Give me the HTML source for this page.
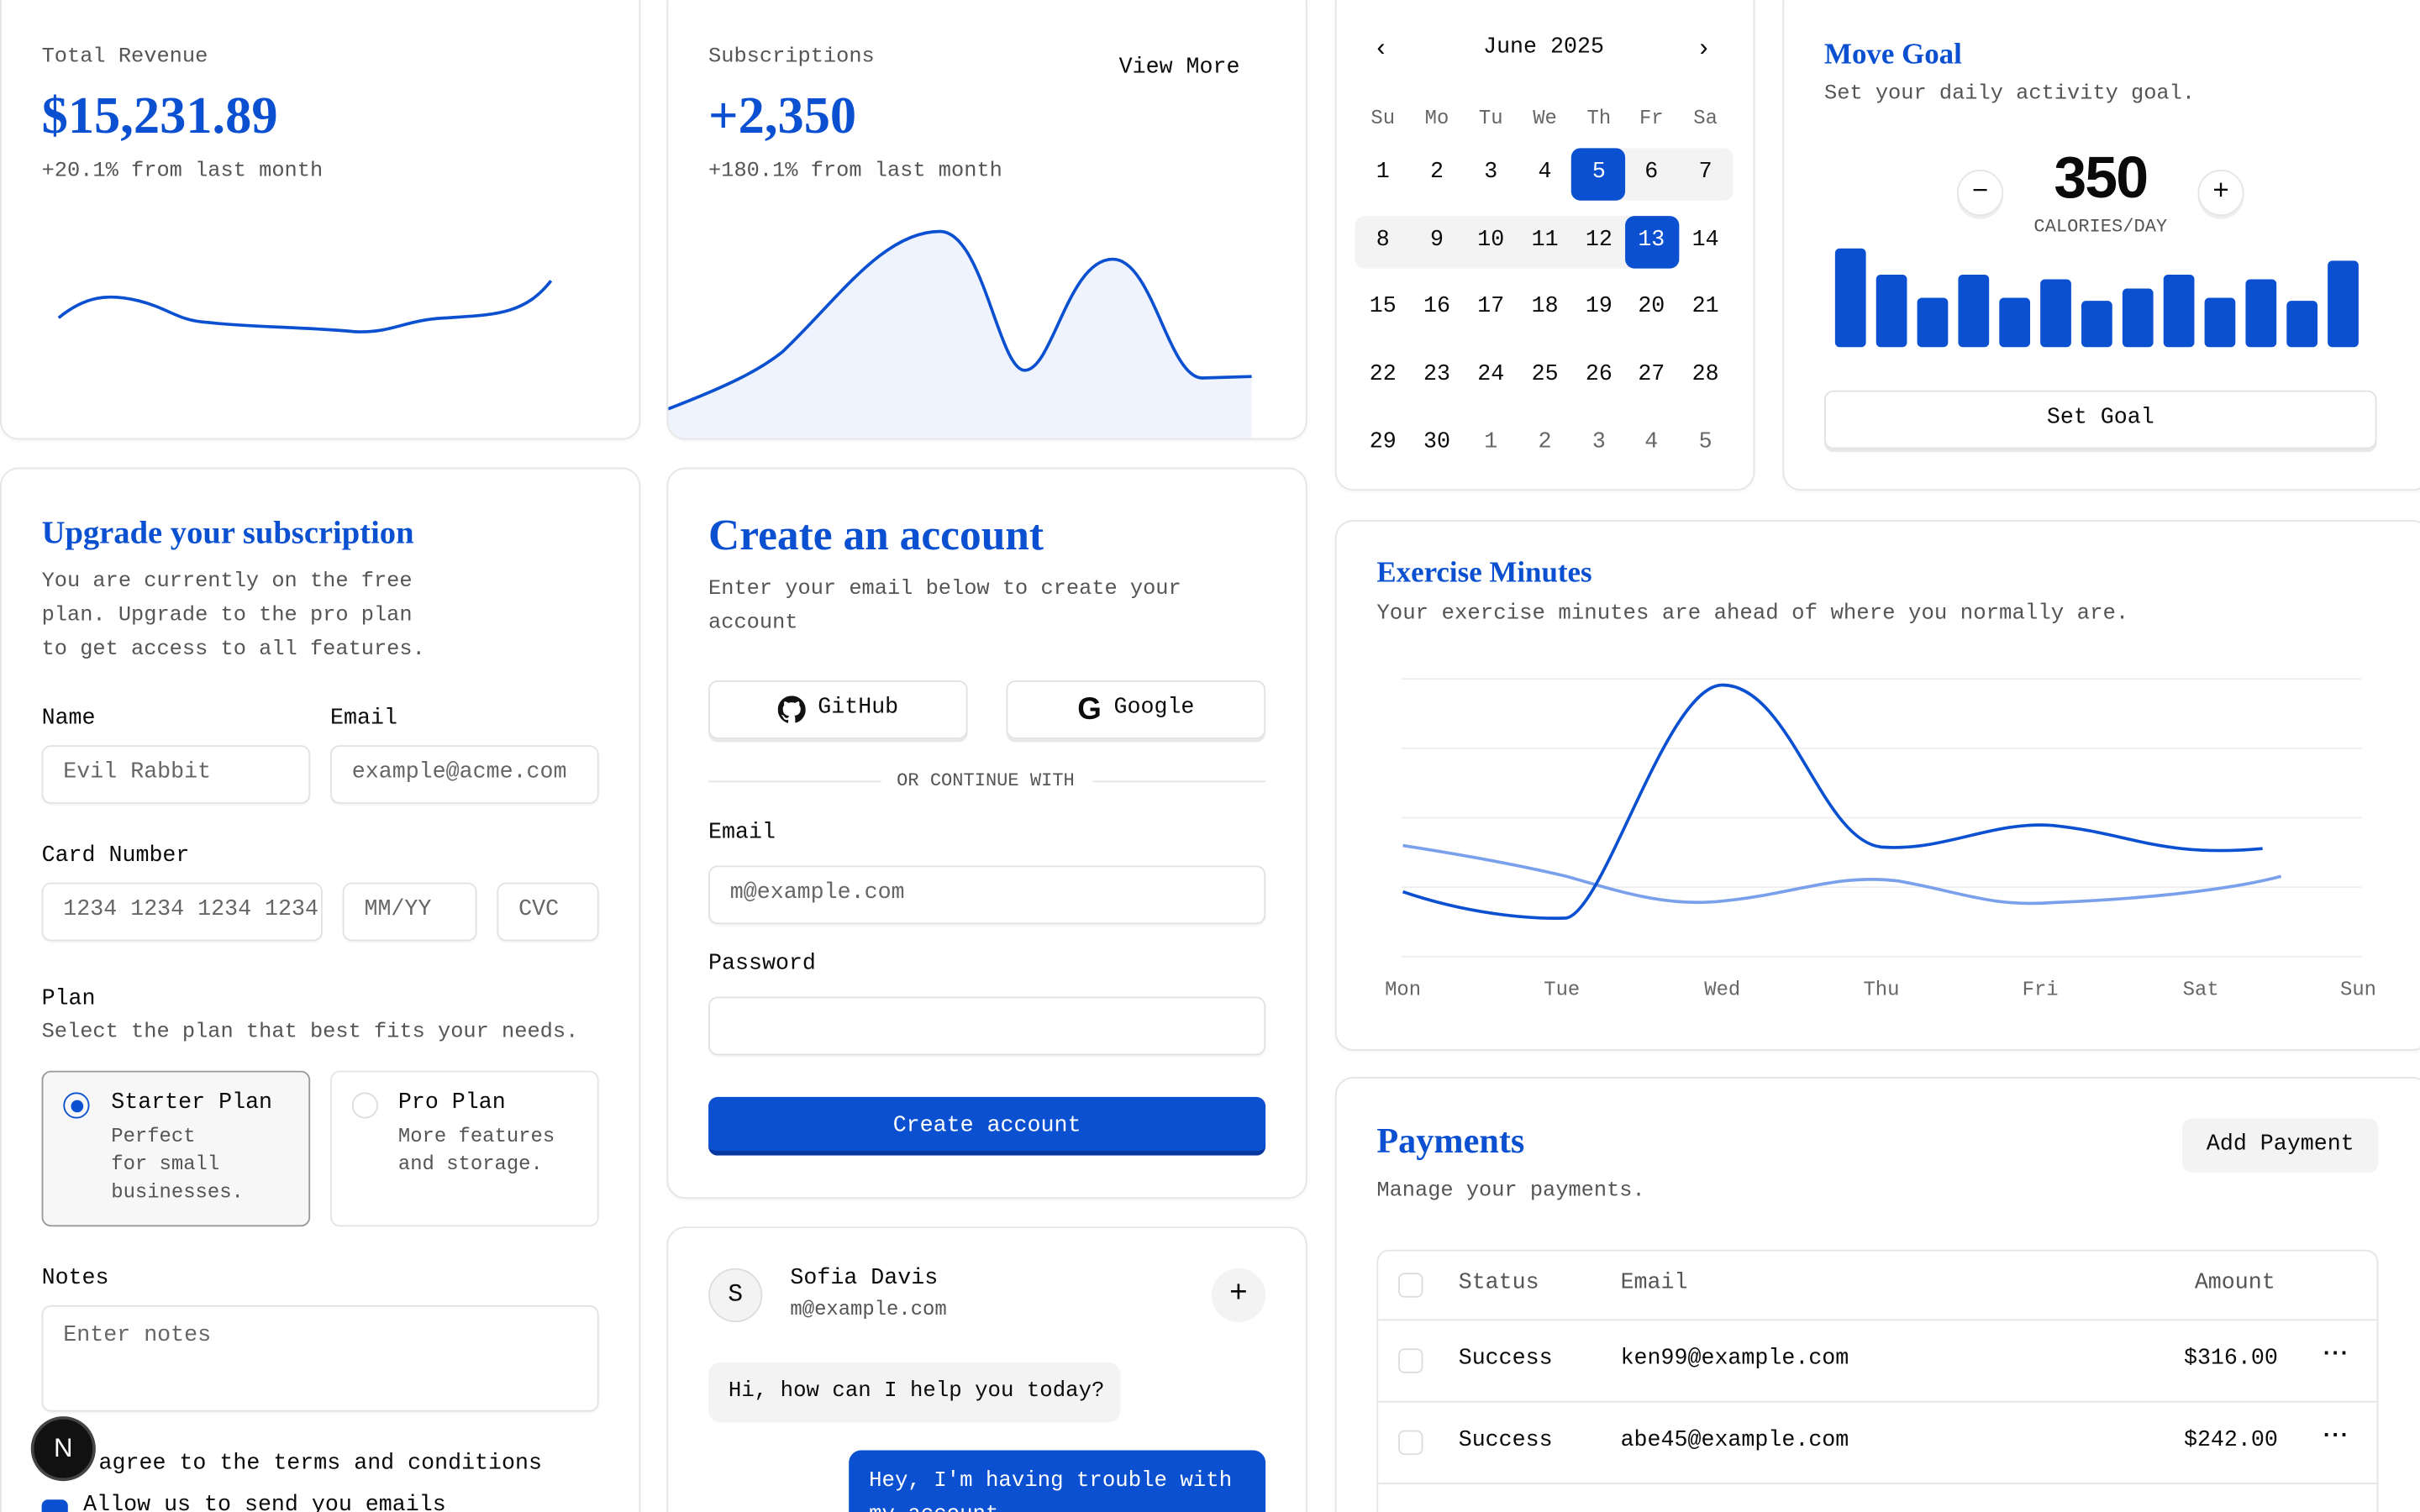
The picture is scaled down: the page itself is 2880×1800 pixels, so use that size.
<!DOCTYPE html>
<html><head><meta charset="utf-8"><style>
*{box-sizing:border-box;margin:0;padding:0}
html,body{width:2880px;height:1800px;overflow:hidden;background:#fff}
#w{position:absolute;left:0;top:0;width:1568px;height:980px;overflow:hidden;transform:scale(1.83673);transform-origin:0 0;font-family:"Liberation Mono",monospace;color:#0a0a0a;font-size:14.5px;line-height:1.5}
.c{position:absolute;border:1px solid #e5e5e5;border-radius:12px;background:#fff;box-shadow:0 1px 2px rgba(0,0,0,.04)}
.a{position:absolute;white-space:nowrap}
.g{color:#555;font-size:13.8px}
.s{font-family:"Liberation Serif",serif;color:#0a50d0;font-weight:bold;line-height:1.2}
.in{position:absolute;border:1px solid #e2e2e2;border-radius:6px;color:#666;padding-left:13px;display:flex;align-items:center;box-shadow:0 1px 1px rgba(0,0,0,.04);overflow:hidden;white-space:nowrap}
.btn{position:absolute;border:1px solid #e2e2e2;border-radius:6px;display:flex;align-items:center;justify-content:center;box-shadow:0 2px 0 #e8e8e8}
.cal{position:absolute;width:35px;height:34px;display:flex;align-items:center;justify-content:center}
</style></head><body><div id="w">

<!-- Revenue -->
<div class="c" style="left:0;top:-10px;width:415px;height:295px"></div>
<div class="a g" style="left:27px;top:28px">Total Revenue</div>
<div class="a s" style="left:27px;top:56px;font-size:34px">$15,231.89</div>
<div class="a g" style="left:27px;top:102px">+20.1% from last month</div>
<svg class="a" style="left:0;top:0" width="415" height="285"><path d="M38,206 C55,192 70,190 90,195 C110,200 115,208 135,209 C160,212 200,212 230,215 C255,216 262,207 290,206 C320,204 340,204 357,182" fill="none" stroke="#0a50d0" stroke-width="2"/></svg>

<!-- Subscriptions -->
<div class="c" style="left:432px;top:-10px;width:415px;height:295px;overflow:hidden">
<svg style="position:absolute;left:-1px;top:9px" width="415" height="285"><path d="M1,265 C40,250 60,240 75,228 C110,195 140,150 177,150 C205,150 215,240 232,240 C250,240 260,168 289,168 C315,168 325,245 347,245 L379,244 L379,285 L1,285Z" fill="#eff3fd"/><path d="M1,265 C40,250 60,240 75,228 C110,195 140,150 177,150 C205,150 215,240 232,240 C250,240 260,168 289,168 C315,168 325,245 347,245 L379,244" fill="none" stroke="#0a50d0" stroke-width="2"/></svg></div>
<div class="a g" style="left:459px;top:28px">Subscriptions</div>
<div class="a" style="left:725px;top:34px">View More</div>
<div class="a s" style="left:459px;top:56px;font-size:34px">+2,350</div>
<div class="a g" style="left:459px;top:102px">+180.1% from last month</div>

<!-- Calendar -->
<div class="c" style="left:865px;top:-10px;width:272px;height:328px"></div>
<div class="a" style="left:890px;top:20px;font-size:16px">‹</div>
<div class="a" style="left:1099px;top:20px;font-size:16px">›</div>
<div class="a" style="left:961px;top:21px">June 2025</div>
<div class="a" style="left:1018px;top:96px;width:105px;height:34px;background:#f3f3f3;border-radius:6px"></div>
<div class="a" style="left:878px;top:140px;width:210px;height:34px;background:#f3f3f3;border-radius:6px"></div>
<div class="a" style="left:1018px;top:96px;width:35px;height:34px;background:#0a50d0;border-radius:6px"></div>
<div class="a" style="left:1053px;top:140px;width:35px;height:34px;background:#0a50d0;border-radius:6px"></div>
<div id="cal"></div>

<!-- Move goal -->
<div class="c" style="left:1155px;top:-10px;width:420px;height:328px"></div>
<div class="a s" style="left:1182px;top:25px;font-size:19px">Move Goal</div>
<div class="a g" style="left:1182px;top:52px">Set your daily activity goal.</div>
<div class="a" style="left:1268px;top:110px;width:30px;height:30px;border:1px solid #e5e5e5;border-radius:50%;text-align:center;line-height:28px;font-size:18px;box-shadow:0 2px 0 #eee">−</div>
<div class="a" style="left:1424px;top:110px;width:30px;height:30px;border:1px solid #e5e5e5;border-radius:50%;text-align:center;line-height:28px;font-size:18px;box-shadow:0 2px 0 #eee">+</div>
<div class="a" style="left:1361px;top:94px;transform:translateX(-50%);font-family:'Liberation Sans',sans-serif;font-weight:bold;font-size:38px;letter-spacing:-1px;line-height:1.2">350</div>
<div class="a g" style="left:1361px;top:138px;transform:translateX(-50%);font-size:12px">CALORIES/DAY</div>
<svg class="a" style="left:0;top:0" width="1568" height="240" id="bars"></svg>
<div class="btn" style="left:1182px;top:253px;width:358px;height:38px">Set Goal</div>

<!-- Upgrade -->
<div class="c" style="left:0;top:303px;width:415px;height:700px"></div>
<div class="a s" style="left:27px;top:333px;font-size:21px">Upgrade your subscription</div>
<div class="a g" style="left:27px;top:367px;line-height:22px">You are currently on the free<br>plan. Upgrade to the pro plan<br>to get access to all features.</div>
<div class="a" style="left:27px;top:456px">Name</div>
<div class="a" style="left:214px;top:456px">Email</div>
<div class="in" style="left:27px;top:483px;width:174px;height:38px">Evil Rabbit</div>
<div class="in" style="left:214px;top:483px;width:174px;height:38px">example@acme.com</div>
<div class="a" style="left:27px;top:545px">Card Number</div>
<div class="in" style="left:27px;top:572px;width:182px;height:38px">1234 1234 1234 1234</div>
<div class="in" style="left:222px;top:572px;width:87px;height:38px">MM/YY</div>
<div class="in" style="left:322px;top:572px;width:66px;height:38px">CVC</div>
<div class="a" style="left:27px;top:638px">Plan</div>
<div class="a g" style="left:27px;top:660px">Select the plan that best fits your needs.</div>
<div class="a" style="left:27px;top:694px;width:174px;height:101px;border:1px solid #999;border-radius:6px;background:#f7f7f7"></div>
<div class="a" style="left:41px;top:708px;width:17px;height:17px;border:1.5px solid #0a50d0;border-radius:50%"></div>
<div class="a" style="left:45.5px;top:712.5px;width:8px;height:8px;background:#0a50d0;border-radius:50%"></div>
<div class="a" style="left:72px;top:705px">Starter Plan</div>
<div class="a g" style="left:72px;top:728px;font-size:13px;line-height:18px">Perfect<br>for small<br>businesses.</div>
<div class="a" style="left:214px;top:694px;width:174px;height:101px;border:1px solid #e5e5e5;border-radius:6px"></div>
<div class="a" style="left:228px;top:708px;width:17px;height:17px;border:1px solid #ddd;border-radius:50%"></div>
<div class="a" style="left:258px;top:705px">Pro Plan</div>
<div class="a g" style="left:258px;top:728px;font-size:13px;line-height:18px">More features<br>and storage.</div>
<div class="a" style="left:27px;top:819px">Notes</div>
<div class="in" style="left:27px;top:846px;width:361px;height:69px;align-items:flex-start;padding-top:9px">Enter notes</div>
<div class="a" style="left:64px;top:939px">agree to the terms and conditions</div>
<div class="a" style="left:27px;top:972px;width:17px;height:17px;background:#0a50d0;border-radius:4px"></div>
<div class="a" style="left:54px;top:966px">Allow us to send you emails</div>
<div class="a" style="left:20px;top:918px;width:42px;height:42px;border-radius:50%;background:#111;border:2px solid #444;color:#fff;text-align:center;line-height:38px;font-family:'Liberation Sans',sans-serif;font-size:17px">N</div>

<!-- Create account -->
<div class="c" style="left:432px;top:303px;width:415px;height:474px"></div>
<div class="a s" style="left:459px;top:331px;font-size:28px">Create an account</div>
<div class="a g" style="left:459px;top:372px;line-height:22px">Enter your email below to create your<br>account</div>
<div class="btn" style="left:459px;top:441px;width:168px;height:38px"><svg width="18" height="18" viewBox="0 0 16 16" style="margin-right:8px"><path d="M8 0C3.6 0 0 3.6 0 8c0 3.5 2.3 6.5 5.5 7.6.4.1.5-.2.5-.4v-1.4c-2.2.5-2.7-1-2.7-1-.4-.9-.9-1.2-.9-1.2-.7-.5.1-.5.1-.5.8.1 1.2.8 1.2.8.7 1.2 1.900.9 2.3.7.1-.5.3-.9.5-1.1-1.8-.2-3.6-.9-3.6-4 0-.9.3-1.6.8-2.1-.1-.2-.4-1 .1-2.1 0 0 .7-.2 2.2.8.6-.2 1.3-.3 2-.3s1.4.1 2 .3c1.5-1 2.2-.8 2.2-.8.4 1.1.2 1.9.1 2.1.5.6.8 1.3.8 2.1 0 3.1-1.9 3.7-3.6 3.9.3.3.5.8.5 1.5v2.2c0 .2.1.5.6.4C13.7 14.5 16 11.5 16 8c0-4.4-3.6-8-8-8z" fill="#111"/></svg>GitHub</div>
<div class="btn" style="left:652px;top:441px;width:168px;height:38px"><span style="font-family:'Liberation Sans',sans-serif;font-weight:bold;font-size:20px;margin-right:8px">G</span>Google</div>
<div class="a" style="left:459px;top:506px;width:112px;border-top:1px solid #e5e5e5"></div>
<div class="a" style="left:708px;top:506px;width:112px;border-top:1px solid #e5e5e5"></div>
<div class="a g" style="left:581px;top:497px;font-size:12px">OR CONTINUE WITH</div>
<div class="a" style="left:459px;top:530px">Email</div>
<div class="in" style="left:459px;top:561px;width:361px;height:38px">m@example.com</div>
<div class="a" style="left:459px;top:615px">Password</div>
<div class="in" style="left:459px;top:646px;width:361px;height:38px"></div>
<div class="a" style="left:459px;top:711px;width:361px;height:38px;background:#0a50d0;border-radius:6px;border-bottom:3px solid #0637a0;color:#fff;text-align:center;line-height:38px">Create account</div>

<!-- Chat -->
<div class="c" style="left:432px;top:795px;width:415px;height:220px"></div>
<div class="a" style="left:459px;top:822px;width:35px;height:35px;border:1px solid #ddd;border-radius:50%;background:#f3f3f3;text-align:center;line-height:33px;font-size:16px">S</div>
<div class="a" style="left:512px;top:819px">Sofia Davis</div>
<div class="a g" style="left:512px;top:839px;font-size:13px">m@example.com</div>
<div class="a" style="left:785px;top:822px;width:35px;height:35px;border-radius:50%;background:#f3f3f3;text-align:center;line-height:35px;font-size:20px">+</div>
<div class="a" style="left:459px;top:883px;width:267px;height:39px;background:#f3f3f3;border-radius:8px;padding-left:13px;line-height:39px;font-size:14px">Hi, how can I help you today?</div>
<div class="a" style="left:550px;top:940px;width:270px;height:60px;background:#0a50d0;border-radius:8px;padding:9px 13px;color:#fff;line-height:22px;white-space:normal;font-size:14px">Hey, I'm having trouble with my account.</div>

<!-- Exercise -->
<div class="c" style="left:865px;top:337px;width:710px;height:344px"></div>
<div class="a s" style="left:892px;top:361px;font-size:19px">Exercise Minutes</div>
<div class="a g" style="left:892px;top:388px;font-size:14px">Your exercise minutes are ahead of where you normally are.</div>
<svg class="a" style="left:0;top:0" width="1568" height="680">
<g stroke="#eee" stroke-width="1"><line x1="908" x2="1530" y1="440" y2="440"/><line x1="908" x2="1530" y1="485" y2="485"/><line x1="908" x2="1530" y1="530" y2="530"/><line x1="908" x2="1530" y1="575" y2="575"/><line x1="908" x2="1530" y1="620" y2="620"/></g>
<path d="M909,548 C960,556 990,562 1015,568 C1050,578 1080,588 1116,584 C1160,580 1190,566 1230,571 C1270,578 1290,588 1330,585 C1380,583 1440,578 1478,568" fill="none" stroke="#7aa0ec" stroke-width="2"/>
<path d="M909,578 C950,592 990,596 1015,595 C1040,590 1080,444 1116,444 C1160,444 1180,545 1219,549 C1260,552 1290,532 1330,535 C1380,540 1400,556 1466,550" fill="none" stroke="#0a50d0" stroke-width="2"/>
<g font-family="Liberation Mono" font-size="13" fill="#666" text-anchor="middle"><text x="909" y="645">Mon</text><text x="1012" y="645">Tue</text><text x="1116" y="645">Wed</text><text x="1219" y="645">Thu</text><text x="1322" y="645">Fri</text><text x="1426" y="645">Sat</text><text x="1528" y="645">Sun</text></g>
</svg>

<!-- Payments -->
<div class="c" style="left:865px;top:698px;width:710px;height:320px"></div>
<div class="a s" style="left:892px;top:726px;font-size:23px">Payments</div>
<div class="a g" style="left:892px;top:763px">Manage your payments.</div>
<div class="a" style="left:1414px;top:725px;width:127px;height:35px;background:#f3f3f3;border-radius:6px;text-align:center;line-height:35px">Add Payment</div>
<div class="a" style="left:892px;top:810px;width:649px;height:200px;border:1px solid #e5e5e5;border-radius:8px"></div>
<div class="a" style="left:893px;top:855px;width:647px;border-top:1px solid #e5e5e5"></div>
<div class="a" style="left:893px;top:908px;width:647px;border-top:1px solid #e5e5e5"></div>
<div class="a" style="left:893px;top:961px;width:647px;border-top:1px solid #e5e5e5"></div>
<div class="a" style="left:906px;top:825px;width:16px;height:16px;border:1px solid #ddd;border-radius:4px"></div>
<div class="a" style="left:906px;top:874px;width:16px;height:16px;border:1px solid #ddd;border-radius:4px"></div>
<div class="a" style="left:906px;top:927px;width:16px;height:16px;border:1px solid #ddd;border-radius:4px"></div>
<div class="a g" style="left:945px;top:822px;font-size:14.5px">Status</div>
<div class="a g" style="left:1050px;top:822px;font-size:14.5px">Email</div>
<div class="a g" style="left:1422px;top:822px;font-size:14.5px">Amount</div>
<div class="a" style="left:945px;top:871px">Success</div>
<div class="a" style="left:1050px;top:871px">ken99@example.com</div>
<div class="a" style="left:1415px;top:871px">$316.00</div>
<div class="a" style="left:1503px;top:868px;font-weight:bold;letter-spacing:-3px">···</div>
<div class="a" style="left:945px;top:924px">Success</div>
<div class="a" style="left:1050px;top:924px">abe45@example.com</div>
<div class="a" style="left:1415px;top:924px">$242.00</div>
<div class="a" style="left:1503px;top:921px;font-weight:bold;letter-spacing:-3px">···</div>

</div>
<script>
var xs=[896,931,966,1001,1036,1070,1105],h='';
var d=['Su','Mo','Tu','We','Th','Fr','Sa'];
for(var i=0;i<7;i++)h+='<div class="cal" style="left:'+(xs[i]-17.5)+'px;top:60px;color:#666;font-size:13px">'+d[i]+'</div>';
var rows=[[1,2,3,4,5,6,7],[8,9,10,11,12,13,14],[15,16,17,18,19,20,21],[22,23,24,25,26,27,28],[29,30,1,2,3,4,5]];
var ys=[113,157,200,244,288];
for(var r=0;r<5;r++)for(var i=0;i<7;i++){var c='#0a0a0a';if((r==0&&i==4)||(r==1&&i==5))c='#fff';if(r==4&&i>1)c='#666';h+='<div class="cal" style="left:'+(xs[i]-17.5)+'px;top:'+(ys[r]-17)+'px;color:'+c+'">'+rows[r][i]+'</div>';}
document.getElementById('cal').innerHTML=h;
var tops=[161,178,193,178,193,181,195,187,178,193,181,195,169],b='';
for(var i=0;i<13;i++){var x=1189+i*26.6;b+='<rect x="'+x+'" y="'+tops[i]+'" width="20" height="'+(225-tops[i])+'" rx="3" fill="#0a50d0"/>';}
document.getElementById('bars').innerHTML=b;
</script>
</body></html>
